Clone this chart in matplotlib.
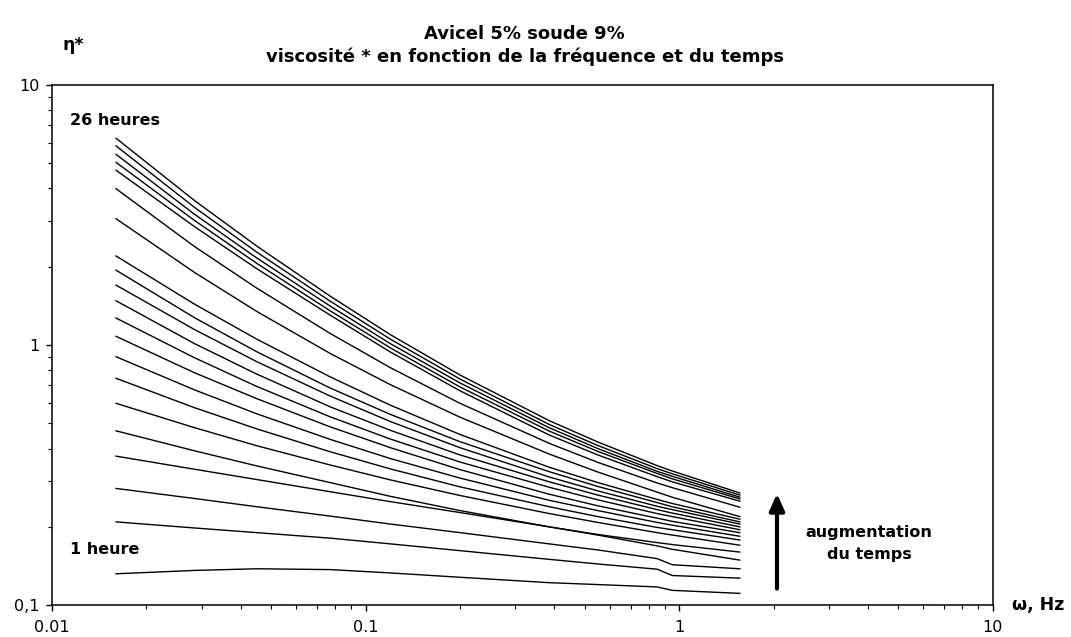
import matplotlib
matplotlib.use("Agg")
import matplotlib.pyplot as plt
from matplotlib.ticker import FixedLocator, LogLocator, NullFormatter

plt.rcParams["font.family"] = ["DejaVu Sans"]

# frequency points (Hz) shared by every curve
freq = [0.016, 0.0285, 0.045, 0.077, 0.12, 0.2, 0.385, 0.55, 0.85, 0.95, 1.56]

# complex viscosity, one curve per hour (top = 26 h, bottom = 1 h)
h26 = [6.24, 3.59, 2.40, 1.543, 1.096, 0.767, 0.512, 0.424, 0.344, 0.328, 0.270]
h25 = [5.83, 3.38, 2.275, 1.476, 1.053, 0.740, 0.495, 0.411, 0.335, 0.320, 0.265]
h24 = [5.41, 3.18, 2.16, 1.413, 1.012, 0.715, 0.481, 0.400, 0.327, 0.313, 0.260]
h23 = [5.04, 3.01, 2.06, 1.355, 0.975, 0.690, 0.467, 0.390, 0.321, 0.306, 0.256]
h22 = [4.70, 2.85, 1.965, 1.304, 0.940, 0.667, 0.451, 0.378, 0.312, 0.298, 0.251]
h21 = [3.99, 2.39, 1.654, 1.109, 0.818, 0.597, 0.419, 0.354, 0.295, 0.283, 0.238]
h20 = [3.06, 1.90, 1.346, 0.929, 0.704, 0.528, 0.381, 0.325, 0.272, 0.260, 0.219]
h19 = [2.20, 1.435, 1.053, 0.755, 0.587, 0.453, 0.339, 0.296, 0.255, 0.246, 0.214]
h18 = [1.94, 1.273, 0.942, 0.684, 0.541, 0.425, 0.326, 0.286, 0.248, 0.239, 0.209]
h17 = [1.70, 1.146, 0.863, 0.637, 0.508, 0.403, 0.311, 0.275, 0.240, 0.233, 0.205]
h16 = [1.48, 1.012, 0.773, 0.579, 0.470, 0.378, 0.298, 0.265, 0.233, 0.226, 0.200]
h15 = [1.27, 0.893, 0.693, 0.530, 0.435, 0.355, 0.284, 0.254, 0.225, 0.219, 0.195]
h14 = [1.08, 0.782, 0.622, 0.485, 0.403, 0.332, 0.267, 0.241, 0.216, 0.210, 0.190]
h13 = [0.902, 0.672, 0.544, 0.434, 0.366, 0.308, 0.253, 0.231, 0.208, 0.203, 0.184]
h12 = [0.745, 0.574, 0.476, 0.389, 0.334, 0.285, 0.239, 0.219, 0.199, 0.195, 0.178]
h11 = [0.597, 0.481, 0.410, 0.346, 0.303, 0.264, 0.225, 0.208, 0.190, 0.186, 0.170]
h10 = [0.468, 0.392, 0.343, 0.296, 0.262, 0.231, 0.200, 0.187, 0.174, 0.171, 0.160]
h9 = [0.374, 0.333, 0.304, 0.273, 0.250, 0.227, 0.200, 0.186, 0.169, 0.164, 0.149]
h8 = [0.281, 0.257, 0.239, 0.220, 0.205, 0.190, 0.172, 0.163, 0.151, 0.143, 0.138]
h7 = [0.209, 0.198, 0.190, 0.181, 0.172, 0.162, 0.150, 0.144, 0.1375, 0.130, 0.127]
h1 = [0.132, 0.136, 0.138, 0.137, 0.133, 0.128, 0.122, 0.120, 0.1175, 0.114, 0.111]

curves = [h26, h25, h24, h23, h22, h21, h20, h19, h18, h17, h16,
          h15, h14, h13, h12, h11, h10, h9, h8, h7, h1]

fig = plt.figure(figsize=(10.71, 6.37), dpi=100)
ax = fig.add_axes([0.0486, 0.050, 0.8784, 0.8166])

for visc in curves:
    ax.plot(freq, visc, color="black", linewidth=1.0)

ax.set_xscale("log")
ax.set_yscale("log")
ax.set_xlim(0.01, 10)
ax.set_ylim(0.1, 10)

ax.xaxis.set_major_locator(FixedLocator([0.01, 0.1, 1, 10]))
ax.set_xticklabels(["0.01", "0.1", "1", "10"])
ax.yaxis.set_major_locator(FixedLocator([0.1, 1, 10]))
ax.set_yticklabels(["0,1", "1", "10"])
ax.xaxis.set_minor_locator(LogLocator(base=10, subs=range(2, 10)))
ax.yaxis.set_minor_locator(LogLocator(base=10, subs=range(2, 10)))
ax.xaxis.set_minor_formatter(NullFormatter())
ax.yaxis.set_minor_formatter(NullFormatter())

ax.tick_params(axis="x", which="major", length=4, width=1, pad=7, labelsize=11.5)
ax.tick_params(axis="y", which="major", length=4, width=1, pad=5, labelsize=11.5)
ax.tick_params(which="minor", length=3, width=0.8)

for spine in ax.spines.values():
    spine.set_linewidth(1.1)
    spine.set_color("black")

fig.text(0.49, 0.928, "Avicel 5% soude 9%\nviscosité * en fonction de la fréquence et du temps",
         ha="center", va="center", fontsize=13, fontweight="bold", linespacing=1.3)
fig.text(0.068, 0.929, "η*", ha="center", va="center", fontsize=12.5, fontweight="bold")
fig.text(0.945, 0.050, "ω, Hz", ha="left", va="center", fontsize=12.5, fontweight="bold")

ax.text(0.0114, 7.27, "26 heures", ha="left", va="center", fontsize=11.5, fontweight="bold")
ax.text(0.0114, 0.163, "1 heure", ha="left", va="center", fontsize=11.5, fontweight="bold")
ax.text(4.03, 0.173, "augmentation\ndu temps", ha="center", va="center",
        fontsize=11.5, fontweight="bold", linespacing=1.6)

ax.annotate("", xy=(2.05, 0.275), xytext=(2.05, 0.113),
            arrowprops=dict(arrowstyle="-|>,head_width=0.45,head_length=1.0",
                            color="black", linewidth=3))

fig.savefig("out.png", dpi=100)
plt.close(fig)
